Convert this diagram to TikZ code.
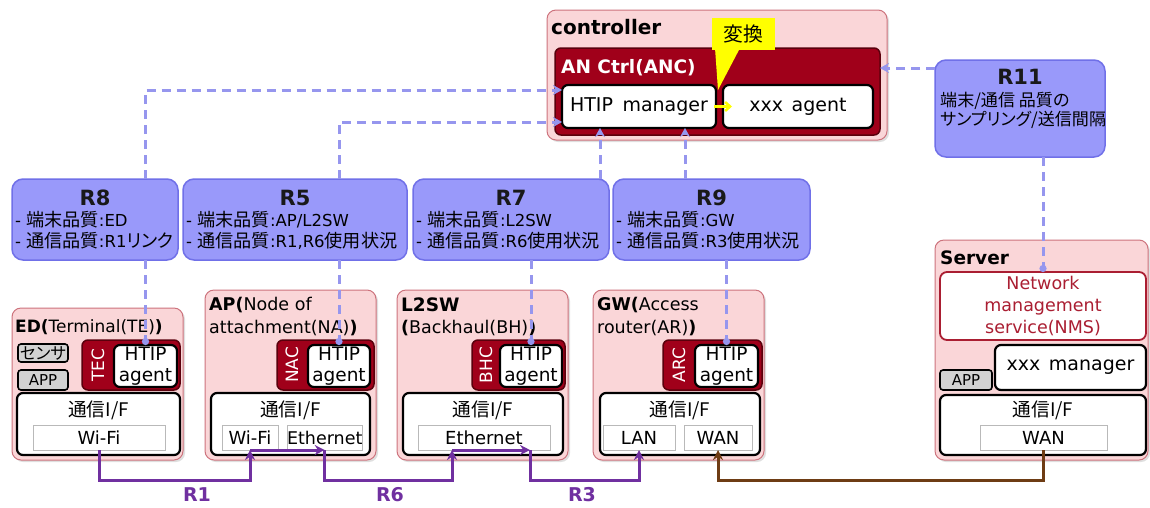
\documentclass[tikz,border=0pt]{standalone}
\usepackage{fontspec}
\setmainfont{DejaVu Sans}
\newfontfamily\jpfont[Scale=1.1, RawFeature=+palt]{Noto Sans CJK JP}
\newcommand\J[1]{{\jpfont #1}}
\usetikzlibrary{arrows.meta,calc,shadows}

\definecolor{pinkfill}{RGB}{250,214,216}
\definecolor{pinkedge}{RGB}{205,115,125}
\definecolor{ancred}{RGB}{160,0,26}
\definecolor{ancedge}{RGB}{90,0,12}
\definecolor{bluefill}{RGB}{153,153,250}
\definecolor{blueedge}{RGB}{112,112,232}
\definecolor{dashblue}{RGB}{150,150,238}
\definecolor{linkpurple}{RGB}{112,48,160}
\definecolor{linkbrown}{RGB}{110,60,20}
\definecolor{grayfill}{RGB}{210,210,210}
\definecolor{nmsred}{RGB}{170,30,50}
\definecolor{calloutyellow}{RGB}{255,255,0}
\definecolor{ifedge}{RGB}{185,185,185}

\begin{document}
\begin{tikzpicture}[x=1pt,y=-1pt,
  sz/.style 2 args={minimum width=#1pt, minimum height=#2pt},
  base/.style={inner sep=0pt, outer sep=0pt, anchor=north west},
  pinkbox/.style={base, draw=pinkedge, fill=pinkfill, line width=1pt, rounded corners=9pt,
    drop shadow={shadow xshift=2pt, shadow yshift=-2pt, opacity=0.25}},
  redbox/.style={base, draw=ancedge, fill=ancred, line width=1.5pt, rounded corners=6pt},
  whitebox/.style={base, draw=black, fill=white, line width=2.2pt, rounded corners=6pt,
    font=\fontsize{19}{21}\selectfont, align=center},
  agentbox/.style={whitebox, font=\fontsize{18.5}{21}\selectfont},
  graybox/.style={base, draw=black, fill=grayfill, line width=1.6pt, rounded corners=3pt,
    font=\fontsize{15}{18}\selectfont},
  ifbox/.style={base, draw=ifedge, fill=white, line width=0.8pt, font=\fontsize{18}{20}\selectfont},
  bluebox/.style={base, draw=blueedge, fill=bluefill, line width=1.5pt, rounded corners=11pt},
  rtitle/.style={inner sep=0pt, font=\fontsize{21}{24}\bfseries\selectfont, text=black!90},
  rbody/.style={inner sep=0pt, anchor=north west, align=left, font=\fontsize{16.5}{21}\selectfont},
  hdr/.style={inner sep=0pt, anchor=west, font=\fontsize{17.5}{21}\selectfont},
  boldhdr/.style={inner sep=0pt, anchor=west, font=\fontsize{18.5}{21}\bfseries\selectfont},
  ctag/.style={inner sep=0pt, rotate=90, text=white, font=\fontsize{17}{18}\selectfont},
  iftext/.style={inner sep=0pt, font=\fontsize{17}{20}\selectfont},
  dashlink/.style={draw=dashblue, line width=3pt, dash pattern=on 9pt off 6pt},
  dasharrow/.style={dashlink, -{Stealth[length=9pt,width=10pt]}},
  dashdot/.style={dashlink, -{Circle[length=7pt]}},
  link/.style={draw=linkpurple, line width=3pt, -{Stealth[length=10pt,width=10pt]}},
  brownlink/.style={link, draw=linkbrown},
  linklabel/.style={inner sep=0pt, text=linkpurple, font=\fontsize{19}{22}\bfseries\selectfont}]

\useasboundingbox (0,0) rectangle (1150,507);
\fill[white] (0,0) rectangle (1150,507);

% ---------- controller ----------
\node[pinkbox, sz={340}{130}] (ctrl) at (547,10) {};
\node[boldhdr, font=\fontsize{20}{22}\bfseries\selectfont] (ctrlt) at (551,27) {controller};
\node[redbox, sz={325}{87}] (anc) at (555,48) {};
\node[boldhdr, text=white] (anct) at (561,68) {AN Ctrl(ANC)};
\node[whitebox, sz={154}{43}] (htip) at (562,85) {HTIP\hspace{0.5em}manager};
\node[whitebox, sz={150}{43}] (xxxag) at (723,85) {xxx\hspace{0.45em}agent};
\draw[calloutyellow, line width=2.5pt, -{Straight Barb[length=5pt,width=9pt]}]
  ([xshift=-2pt]htip.east) -- ([xshift=9pt]xxxag.west);

% conversion callout
\fill[calloutyellow] (715,48) -- (718,90) -- (740,48) -- cycle;
\node[base, fill=calloutyellow, sz={63}{32}, font=\jpfont\fontsize{18}{20}\selectfont] (conv) at (712,18) {変換};

% ---------- R11 ----------
\node[bluebox, sz={170}{97}] (r11) at (935,60) {};
\node[rtitle] (r11t) at (1020,77) {R11};
\node[rbody, font=\jpfont\fontsize{15.5}{19}\selectfont] (r11b) at (940,92) {端末/通信 品質の\\サンプリング/送信間隔};

% ---------- R boxes ----------
\node[bluebox, sz={166}{81}] (r8) at (12,179) {};
\node[rtitle] (r8t) at (r8.north |- 0,198) {R8};
\node[rbody] (r8b) at (15,211) {- \J{端末品質}:ED\\- \J{通信品質}:R1\J{リンク}};

\node[bluebox, sz={224}{81}] (r5) at (183,179) {};
\node[rtitle] (r5t) at (r5.north |- 0,198) {R5};
\node[rbody] (r5b) at (186,211) {- \J{端末品質}:AP/L2SW\\- \J{通信品質}:R1,R6\J{使用状況}};

\node[bluebox, sz={196}{81}] (r7) at (413,179) {};
\node[rtitle] (r7t) at (r7.north |- 0,198) {R7};
\node[rbody] (r7b) at (416,211) {- \J{端末品質}:L2SW\\- \J{通信品質}:R6\J{使用状況}};

\node[bluebox, sz={197}{81}] (r9) at (613,179) {};
\node[rtitle] (r9t) at (r9.north |- 0,198) {R9};
\node[rbody] (r9b) at (616,211) {- \J{端末品質}:GW\\- \J{通信品質}:R3\J{使用状況}};

% ---------- ED ----------
\node[pinkbox, sz={171}{152}] (ed) at (12,308) {};
\node[hdr, font=\fontsize{17}{21}\selectfont] (edt) at (15,327) {\textbf{ED(}Terminal(TE)\textbf{)}};
\node[graybox, sz={50}{18}] (edsens) at (18,344) {\J{センサ}};
\node[graybox, sz={50}{20}] (edapp) at (18,370) {APP};
\node[redbox, sz={98}{50}] (tec) at (82,340) {};
\node[ctag] (tect) at (98,365) {TEC};
\node[agentbox, sz={63}{42}] (edag) at (114,345) {HTIP\\agent};
\node[whitebox, sz={163}{62}] (edif) at (17,393) {};
\node[iftext] (edift) at (edif.north |- 0,410) {\J{通信I/F}};
\node[ifbox, sz={132}{25}] (edwifi) at (33,425) {Wi-Fi};

% ---------- AP ----------
\node[pinkbox, sz={171}{170}] (ap) at (205,290) {};
\node[hdr] (apt1) at (209,305) {\textbf{AP(}Node of};
\node[hdr] (apt2) at (209,328) {attachment(NA)\textbf{)}};
\node[redbox, sz={97}{50}] (nac) at (277,340) {};
\node[ctag] (nact) at (292,365) {NAC};
\node[agentbox, sz={62}{42}] (apag) at (308,345) {HTIP\\agent};
\node[whitebox, sz={159}{62}] (apif) at (211,393) {};
\node[iftext] (apift) at (apif.north |- 0,410) {\J{通信I/F}};
\node[ifbox, sz={56}{25}] (apwifi) at (222,425) {Wi-Fi};
\node[ifbox, sz={75}{25}, font=\fontsize{17.5}{20}\selectfont] (apeth) at (287,425) {Ethernet};

% ---------- L2SW ----------
\node[pinkbox, sz={171}{170}] (l2) at (397,290) {};
\node[boldhdr] (l2t1) at (401,305) {L2SW};
\node[hdr] (l2t2) at (401,328) {\textbf{(}Backhaul(BH)\textbf{)}};
\node[redbox, sz={93}{50}] (bhc) at (472,340) {};
\node[ctag] (bhct) at (486,365) {BHC};
\node[agentbox, sz={62}{42}] (l2ag) at (500,345) {HTIP\\agent};
\node[whitebox, sz={160}{62}] (l2if) at (403,393) {};
\node[iftext] (l2ift) at (l2if.north |- 0,410) {\J{通信I/F}};
\node[ifbox, sz={132}{25}] (l2eth) at (418,425) {Ethernet};

% ---------- GW ----------
\node[pinkbox, sz={171}{170}] (gw) at (593,290) {};
\node[hdr] (gwt1) at (597,305) {\textbf{GW(}Access};
\node[hdr] (gwt2) at (597,328) {router(AR)\textbf{)}};
\node[redbox, sz={99}{50}] (arc) at (663,340) {};
\node[ctag] (arct) at (679,365) {ARC};
\node[agentbox, sz={63}{42}] (gwag) at (695,345) {HTIP\\agent};
\node[whitebox, sz={160}{62}] (gwif) at (600,393) {};
\node[iftext] (gwift) at (gwif.north |- 0,410) {\J{通信I/F}};
\node[ifbox, sz={72}{25}] (lan) at (603,425) {LAN};
\node[ifbox, sz={68}{25}] (gwwan) at (684,425) {WAN};

% ---------- Server ----------
\node[pinkbox, sz={213}{220}] (srv) at (935,240) {};
\node[boldhdr] (srvt) at (940,258) {Server};
\node[base, draw=nmsred, fill=white, line width=1.8pt, rounded corners=7pt, sz={206}{68},
  text=nmsred, align=center, font=\fontsize{17.5}{22}\selectfont] (nms) at (940,272)
  {Network\\management\\service(NMS)};
\node[whitebox, sz={151}{45}] (xxxmgr) at (995,345) {xxx\hspace{0.45em}manager};
\node[graybox, sz={52}{20}] (srvapp) at (940,370) {APP};
\node[whitebox, sz={206}{60}] (srvif) at (940,395) {};
\node[iftext] (srvift) at (srvif.north |- 0,410) {\J{通信I/F}};
\node[ifbox, sz={127}{25}] (srvwan) at (980,425) {WAN};

% ---------- dashed report links ----------
\coordinate (r7up) at ([xshift=-9pt]r7.north east);
\coordinate (r9up) at ([xshift=72pt]r9.north west);
\coordinate (r11out) at ($(r11.north west)+(0,8)$);
\draw[dasharrow] (r8.north -| edag.north) |- ($(htip.north west)+(0,5)$);
\draw[dasharrow] (r5.north -| apag.north) |- ($(htip.south west)+(0,-6)$);
\draw[dasharrow] (r7up) -- (r7up |- htip.south);
\draw[dasharrow] (r9up) -- (r9up |- htip.south);
\draw[dasharrow] (r11out) -- (r11out -| anc.east);

\draw[dashdot] (r8.south -| edag.north) -- (edag.north);
\draw[dashdot] (r5.south -| apag.north) -- (apag.north);
\draw[dashdot] (r7.south -| l2ag.north) -- (l2ag.north);
\draw[dashdot] (r9.south -| gwag.north) -- (gwag.north);
\draw[dashdot] (r11.south -| nms.north) -- (nms.north);

% ---------- physical links ----------
\coordinate (l2in) at ([xshift=34pt]l2eth.south west);
\coordinate (l2out) at ([xshift=-20pt]l2eth.south east);
\draw[link] (edwifi.south) -- ++(0,30) -| (apwifi.south);
\draw[link] (apwifi.south) -- (apeth.south);
\draw[link] (apeth.south) -- ++(0,30) -| (l2in);
\draw[link] (l2in) -- (l2out);
\draw[link] (l2out) -- ++(0,30) -| (lan.south);
\draw[brownlink] (srvwan.south) -- ++(0,30) -| (gwwan.south);

\node[linklabel] (lr1) at (197,495) {R1};
\node[linklabel] (lr6) at (390,495) {R6};
\node[linklabel] (lr3) at (582,495) {R3};
\end{tikzpicture}
\end{document}
